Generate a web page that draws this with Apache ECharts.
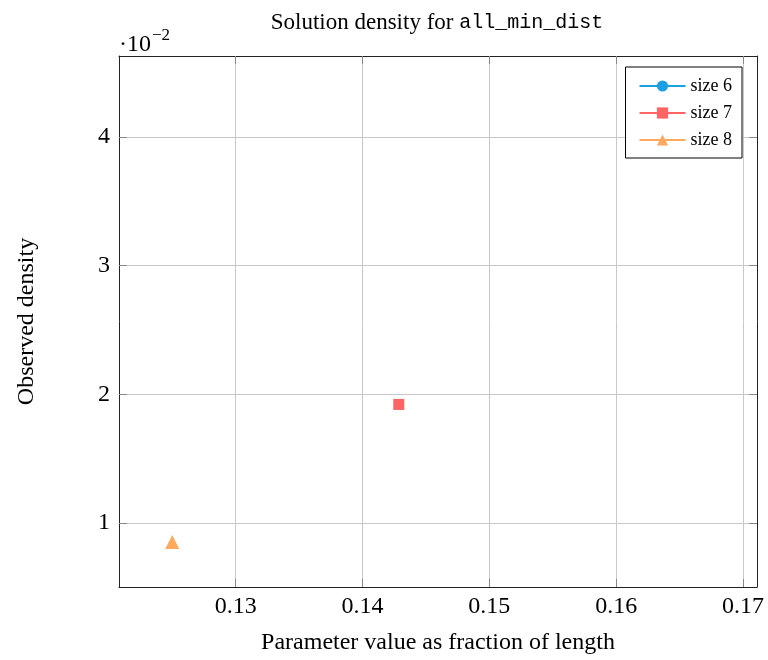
<!DOCTYPE html>
<html>
<head>
<meta charset="utf-8">
<script src="https://cdn.jsdelivr.net/npm/echarts@6/dist/echarts.min.js"></script>
<style>
  body { margin: 0; background: #fff; }
  #main { width: 768px; height: 660px; }
</style>
</head>
<body>
<div id="main"></div>
<script>
  // data (x = 1/size, y = density)
  var seriesNames = ['size 6', 'size 7', 'size 8'];
  var size6 = [];
  var size7 = [[0.142857, 0.01922]];
  var size8 = [[0.125, 0.00853]];
  var xTicks = [0.13, 0.14, 0.15, 0.16, 0.17];
  var yTicks = [0.01, 0.02, 0.03, 0.04];

  var serif = 'Liberation Serif';
  var colors = ['#1ba1e2', '#ff6464', '#ffa95e'];
  var symbols = ['circle', 'rect', 'triangle'];

  var xMin = 0.1208, xMax = 0.1711;
  var yMin = 0.00504, yMax = 0.04628;

  var boxLine = { show: true, onZero: false, lineStyle: { color: '#222' } };
  var tickStyle = { color: '#888' };

  var chart = echarts.init(document.getElementById('main'));
  chart.setOption({
    animation: false,
    color: colors,
    title: {
      text: '{a|Solution density for }{b|all_min_dist}',
      left: 432,
      textAlign: 'center',
      top: 6,
      textStyle: {
        fontWeight: 'normal',
        rich: {
          a: { fontFamily: serif, fontSize: 23, fontWeight: 'normal', color: '#000' },
          b: { fontFamily: 'Liberation Mono', fontSize: 20, fontWeight: 'normal', color: '#000' }
        }
      }
    },
    graphic: [{
      type: 'text',
      left: 119,
      top: 27,
      style: {
        text: '{a|·10}{b|−2}',
        rich: {
          a: { fontFamily: serif, fontSize: 24, fill: '#000', padding: [8, 1, 0, 0] },
          b: { fontFamily: serif, fontSize: 17, fill: '#000', padding: [0, 0, 10, 0] }
        }
      }
    }],
    legend: {
      right: 26,
      top: 67,
      orient: 'vertical',
      data: seriesNames,
      itemWidth: 46,
      itemHeight: 14,
      itemGap: 9,
      padding: [10, 10, 9, 13],
      borderColor: '#000',
      borderWidth: 1,
      borderRadius: 0,
      backgroundColor: '#fff',
      textStyle: { fontFamily: serif, fontSize: 18, color: '#000' }
    },
    grid: { left: 119, right: 11, top: 56, bottom: 72 },
    xAxis: [{
      type: 'value',
      min: xMin,
      max: xMax,
      name: 'Parameter value as fraction of length',
      nameLocation: 'middle',
      nameGap: 44,
      nameTextStyle: { fontFamily: serif, fontSize: 24, color: '#000' },
      axisLine: boxLine,
      axisTick: { show: true, inside: true, length: 8, customValues: xTicks, lineStyle: tickStyle },
      axisLabel: {
        customValues: xTicks,
        formatter: function (v) { return v.toFixed(2); },
        fontFamily: serif, fontSize: 24, color: '#000', margin: 8
      },
      splitLine: { show: true, lineStyle: { color: '#c8c8c8' } }
    }, {
      type: 'value',
      position: 'top',
      min: xMin,
      max: xMax,
      axisLine: boxLine,
      axisTick: { show: true, inside: true, length: 8, customValues: xTicks, lineStyle: tickStyle },
      axisLabel: { show: false },
      splitLine: { show: false }
    }],
    yAxis: [{
      type: 'value',
      min: yMin,
      max: yMax,
      name: 'Observed density',
      nameLocation: 'middle',
      nameGap: 80,
      nameTextStyle: { fontFamily: serif, fontSize: 24, color: '#000' },
      axisLine: boxLine,
      axisTick: { show: true, inside: true, length: 8, customValues: yTicks, lineStyle: tickStyle },
      axisLabel: {
        customValues: yTicks,
        formatter: function (v) { return String(Math.round(v * 100)); },
        fontFamily: serif, fontSize: 24, color: '#000', margin: 9
      },
      splitLine: { show: true, lineStyle: { color: '#c8c8c8' } }
    }, {
      type: 'value',
      position: 'right',
      min: yMin,
      max: yMax,
      axisLine: boxLine,
      axisTick: { show: true, inside: true, length: 8, customValues: yTicks, lineStyle: tickStyle },
      axisLabel: { show: false },
      splitLine: { show: false }
    }],
    series: [size6, size7, size8].map(function (d, i) {
      return {
        name: seriesNames[i],
        type: 'line',
        data: d,
        symbol: symbols[i],
        symbolSize: i === 2 ? 14 : 11,
        showAllSymbol: true,
        lineStyle: { width: 2 },
        itemStyle: { color: colors[i] }
      };
    })
  });
</script>
</body>
</html>
